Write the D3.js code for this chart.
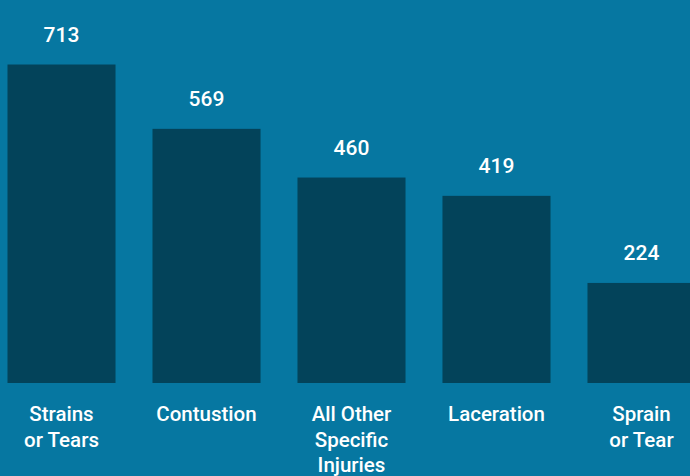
<!DOCTYPE html>
<html>
<head>
<meta charset="utf-8">
<script src="https://cdn.jsdelivr.net/npm/d3@7"></script>
<style>
  html, body { margin: 0; padding: 0; background: #0677a1; overflow: hidden; }
  svg { display: block; }
  text { font-family: Roboto, "Liberation Sans", Arial, sans-serif; font-weight: 500; fill: #ffffff; }
</style>
</head>
<body>
<svg width="690" height="476"></svg>
<script>
// injury types and counts
var categories = ["Strains or Tears", "Contustion", "All Other Specific Injuries", "Laceration", "Sprain or Tear"];
var labelLines = [["Strains", "or Tears"], ["Contustion"], ["All Other", "Specific", "Injuries"], ["Laceration"], ["Sprain", "or Tear"]];
var counts = [713, 569, 460, 419, 224];

var svg = d3.select("svg"),
    width = +svg.attr("width"),
    height = +svg.attr("height");

var baseY = 383;

var x = d3.scaleBand()
    .domain(categories)
    .range([7.5, 695.5])
    .paddingInner(0.255)
    .paddingOuter(0);

var y = d3.scaleLinear()
    .domain([0, 750])
    .range([baseY, 48]);

var data = categories.map(function(c, i) {
  return { cat: c, value: counts[i], lines: labelLines[i] };
});

// bars
svg.append("g")
  .selectAll("rect")
  .data(data)
  .enter().append("rect")
    .attr("x", function(d) { return x(d.cat); })
    .attr("y", function(d) { return y(d.value); })
    .attr("width", x.bandwidth())
    .attr("height", function(d) { return baseY - y(d.value); })
    .attr("fill", "#03435a");

// value labels
svg.append("g")
  .selectAll("text")
  .data(data)
  .enter().append("text")
    .attr("x", function(d) { return x(d.cat) + x.bandwidth() / 2; })
    .attr("y", function(d) { return y(d.value) - 23; })
    .attr("text-anchor", "middle")
    .style("font-size", "21px")
    .text(function(d) { return d.value; });

// category labels
var cat = svg.append("g")
  .selectAll("text")
  .data(data)
  .enter().append("text")
    .attr("x", function(d) { return x(d.cat) + x.bandwidth() / 2; })
    .attr("y", 421)
    .attr("text-anchor", "middle")
    .style("font-size", "20.5px");

cat.selectAll("tspan")
  .data(function(d) { return d.lines.map(function(l) { return { t: l, cx: x(d.cat) + x.bandwidth() / 2 }; }); })
  .enter().append("tspan")
    .attr("x", function(d) { return d.cx; })
    .attr("dy", function(d, i) { return i === 0 ? 0 : 25.5; })
    .text(function(d) { return d.t; });
</script>
</body>
</html>
